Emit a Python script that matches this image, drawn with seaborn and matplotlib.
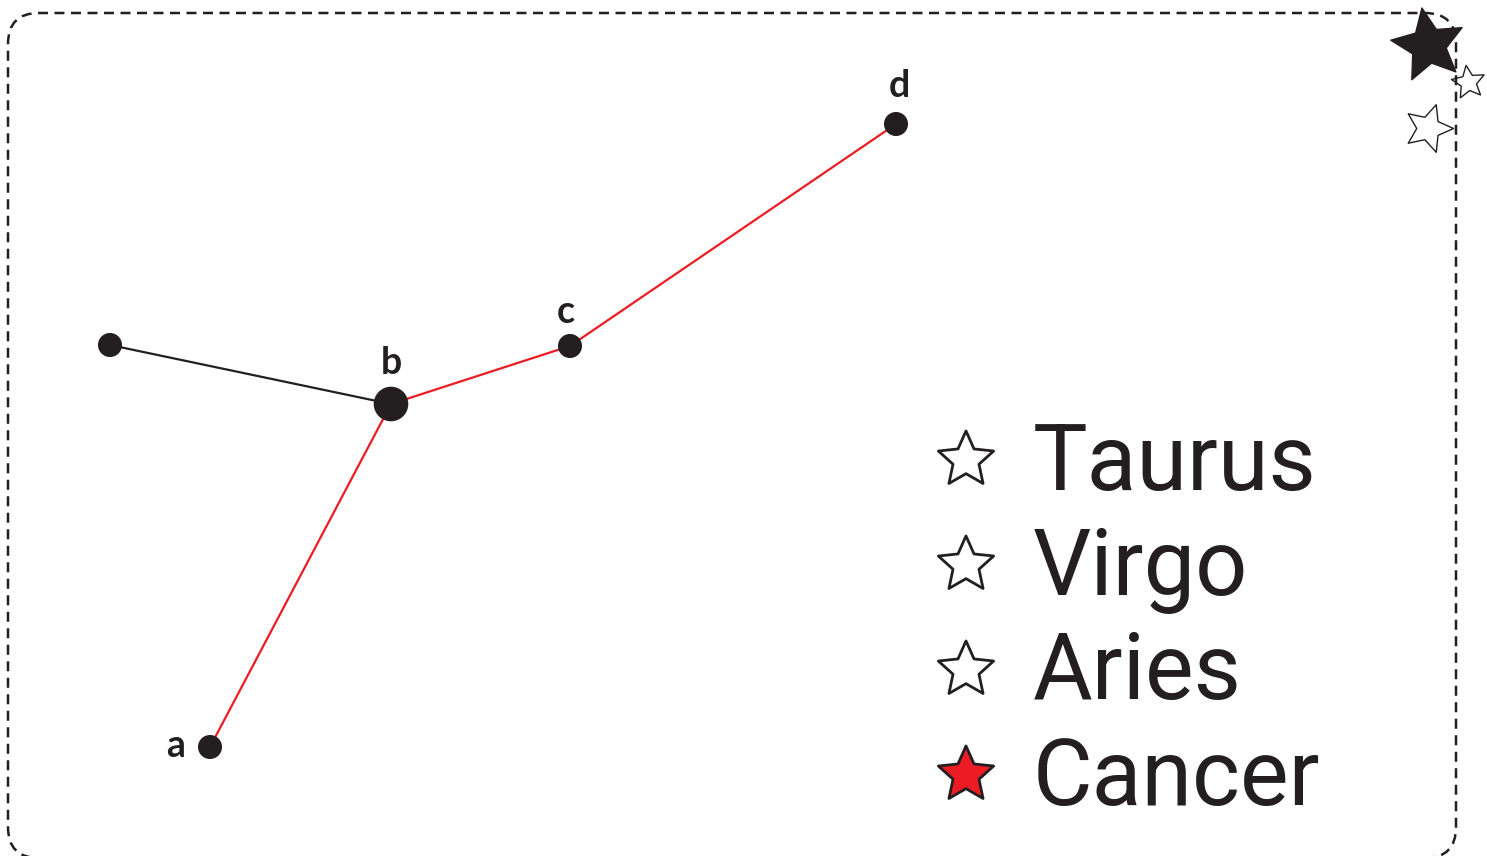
import matplotlib
matplotlib.use("Agg")
import matplotlib.pyplot as plt
import seaborn as sns
import pandas as pd
from matplotlib.markers import MarkerStyle
from matplotlib.path import Path
from matplotlib.transforms import Affine2D, IdentityTransform
from matplotlib.patches import FancyBboxPatch

RED = "#ED1C24"
INK = "#231F20"

# constellation nodes (canvas pixel coordinates)
node_names = ["", "b", "c", "d", "a"]
node_x = [110, 391, 570, 896, 210]
node_y = [345, 404, 346, 124, 747]
node_size = [300, 620, 300, 300, 300]

# edges as pairs of node indices
edge_from = [0, 4, 1, 2]
edge_to = [1, 1, 2, 3]
edge_color = [INK, RED, RED, RED]

# legend
signs = ["Taurus", "Virgo", "Aries", "Cancer"]
sign_fill = ["white", "white", "white", RED]
sign_y = [460, 565, 670, 775]

# decorative stars top right
deco_x = [1428, 1468, 1428]
deco_y = [45, 82, 128]
deco_size = [3000, 620, 1300]
deco_fill = [INK, "white", "white"]
deco_rot = [10, 8, -18]

sns.set_style("white")
plt.rcParams["font.family"] = ["Roboto", "DejaVu Sans"]

star_path = Path.unit_regular_star(5, innerCircle=0.47)

W, H = 1487, 856
fig = plt.figure(figsize=(W / 100, H / 100), dpi=100)
ax = fig.add_axes([0, 0, 1, 1])
ax.set_xlim(0, W)
ax.set_ylim(H, 0)
ax.axis("off")

# dashed rounded frame in pixel space, bottom edge sits just below the canvas
frame = FancyBboxPatch((8, -2), 1448, 845, boxstyle="round,pad=0,rounding_size=31",
                       fill=False, edgecolor=INK, linewidth=1.8, linestyle=(0, (4, 2.6)),
                       transform=IdentityTransform())
fig.patches.append(frame)

for f, t, c in zip(edge_from, edge_to, edge_color):
    ax.plot([node_x[f], node_x[t]], [node_y[f], node_y[t]], color=c, lw=1.6, zorder=2)

nodes = pd.DataFrame({"x": node_x, "y": node_y, "s": node_size, "name": node_names})
sns.scatterplot(data=nodes, x="x", y="y", size="s", sizes=(min(node_size), max(node_size)),
                color=INK, edgecolor="none", legend=False, ax=ax, zorder=3)

label_off = {"a": (-34, -1), "b": (0, -41), "c": (-4, -34), "d": (3, -38)}
for n, x, y in zip(node_names, node_x, node_y):
    if n:
        dx, dy = label_off[n]
        ax.text(x + dx, y + dy, n, fontsize=27, fontweight="bold", family=["Lato", "DejaVu Sans"],
                color=INK, ha="center", va="center", zorder=4)

leg = pd.DataFrame({"x": [966] * len(signs), "y": sign_y, "sign": signs})
sns.scatterplot(data=leg, x="x", y="y", hue="sign", palette=dict(zip(signs, sign_fill)),
                marker=MarkerStyle(star_path), s=1750, edgecolor=INK, linewidth=2.0,
                legend=False, ax=ax, zorder=3)
for s, y in zip(signs, sign_y):
    ax.text(1033, y + 4, s, fontsize=66, color=INK, ha="left", va="center")

for x, y, s, c, r in zip(deco_x, deco_y, deco_size, deco_fill, deco_rot):
    m = MarkerStyle(star_path, transform=Affine2D().rotate_deg(r))
    ax.scatter([x], [y], marker=m, s=s, facecolor=c, edgecolor=INK, linewidth=1.0, zorder=5)

fig.savefig("out.png", dpi=100)
